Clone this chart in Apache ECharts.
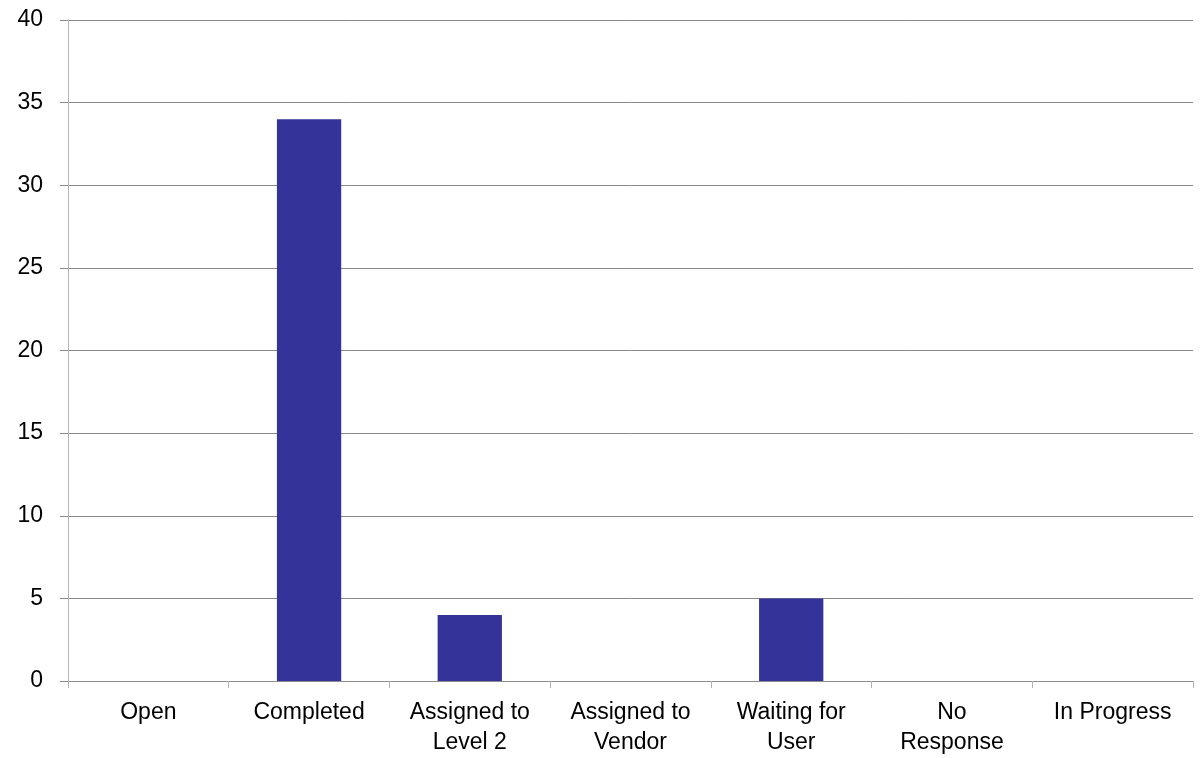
<!DOCTYPE html>
<html><head><meta charset="utf-8">
<script src="https://cdn.jsdelivr.net/npm/echarts@6/dist/echarts.min.js"></script>
<style>html,body{margin:0;padding:0;background:#fff}#c{width:1201px;height:758px}</style>
</head><body><div id="c"></div>
<script>
const categories = ["Open", "Completed", "Assigned to\nLevel 2", "Assigned to\nVendor", "Waiting for\nUser", "No\nResponse", "In Progress"];
const values = [0, 34, 4, 0, 5, 0, 0];
const yTicks = {min: 0, max: 40, interval: 5};

const chart = echarts.init(document.getElementById('c'), null, {renderer: 'canvas'});
chart.setOption({
  animation: false,
  backgroundColor: '#ffffff',
  grid: {left: 68, right: 8, top: 20, bottom: 75, containLabel: false},
  xAxis: {
    type: 'category',
    data: categories,
    axisLine: {show: true, lineStyle: {color: '#8c8c8c', width: 1}},
    axisTick: {show: true, length: 7, lineStyle: {color: '#b3b3b3'}},
    axisLabel: {color: '#000', fontFamily: 'Liberation Sans', fontSize: 23, lineHeight: 30, margin: 17, interval: 0},
    splitLine: {show: false}
  },
  yAxis: {
    type: 'value',
    min: yTicks.min, max: yTicks.max, interval: yTicks.interval,
    axisLine: {show: true, lineStyle: {color: '#b3b3b3', width: 1}},
    axisTick: {show: true, length: 8, lineStyle: {color: '#888'}},
    axisLabel: {color: '#000', fontFamily: 'Liberation Sans', fontSize: 23, margin: 25},
    splitLine: {show: true, lineStyle: {color: '#888', width: 1}}
  },
  series: [{
    type: 'bar',
    data: values,
    barWidth: '40%',
    itemStyle: {color: '#333399'}
  }]
});
</script></body></html>
